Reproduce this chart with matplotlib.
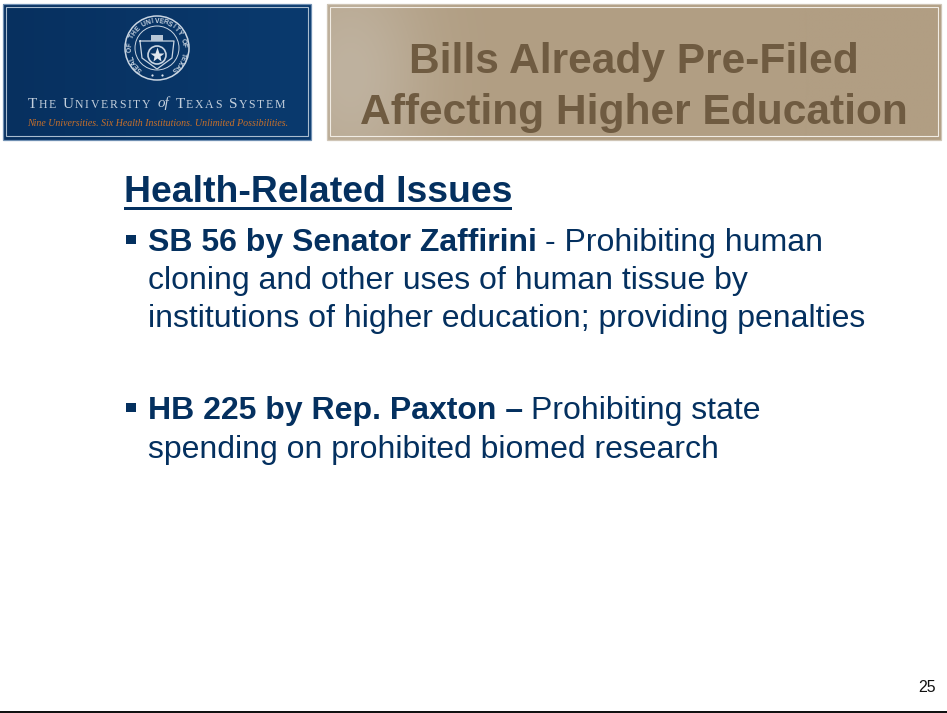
import numpy as np
import matplotlib
matplotlib.use("Agg")
import matplotlib.pyplot as plt
from matplotlib.patches import Rectangle, Circle

plt.rcParams['font.family'] = ['Liberation Sans', 'DejaVu Sans']

NAVY = '#04305f'
TAN_TEXT = '#6f5b41'
ORANGE = '#c8702a'

title_lines = ['Bills Already Pre-Filed', 'Affecting Higher Education']
heading = 'Health-Related Issues'
bullet_one = [('SB 56 by Senator Zaffirini', ' - Prohibiting human'),
              ('', 'cloning and other uses of human tissue by'),
              ('', 'institutions of higher education; providing penalties')]
bullet_two = [('HB 225 by Rep. Paxton \u2013', ' Prohibiting state'),
              ('', 'spending on prohibited biomed research')]
logo_tag = 'Nine Universities. Six Health Institutions. Unlimited Possibilities.'
seal_ring = 'SEAL OF THE UNIVERSITY OF TEXAS'
page_no = '25'

fig = plt.figure(figsize=(9.47, 7.13), dpi=100, facecolor='white')
ax = fig.add_axes([0, 0, 1, 1])
ax.set_xlim(0, 947)
ax.set_ylim(713, 0)
ax.axis('off')


def panel(x0, y0, x1, y1, left, right, border, inner, glow):
    c = np.array(matplotlib.colors.to_rgb(left))[None, None, :]
    d = np.array(matplotlib.colors.to_rgb(right))[None, None, :]
    ax.imshow(c * (1 - glow) + d * glow, extent=(x0, x1, y1, y0), aspect='auto',
              interpolation='bilinear', zorder=1)
    ax.add_patch(Rectangle((x0, y0), x1 - x0, y1 - y0, fill=False, ec=border, lw=0.9, zorder=2))
    ax.add_patch(Rectangle((x0 + 3, y0 + 3.2), x1 - x0 - 6, y1 - y0 - 7, fill=False, ec=inner, lw=0.8, zorder=2))


xx = np.linspace(0, 1, 400)
panel(3, 4, 311, 140, '#07305f', '#0a3a6e', '#6f8fb2', '#a9bccf', xx[None, :, None])
# soft highlight near the left of the title panel
gx, gy = np.meshgrid(np.linspace(327, 941, 400), np.linspace(4, 140, 80))
soft = np.exp(-(((gx - 350) / 75.0) ** 2 + ((gy - 75) / 120.0) ** 2))[:, :, None]
panel(327, 4, 941, 140, '#b19e83', '#bfb29f', '#cfc5b6', '#f1ece4', soft)
ax.set_xlim(0, 947)
ax.set_ylim(713, 0)

# seal
sx, sy, r = 157, 48, 32
ax.add_patch(Circle((sx, sy), r, fill=False, ec='#c9d5e2', lw=1.1, zorder=3))
ax.add_patch(Circle((sx, sy), r - 10, fill=False, ec='#c9d5e2', lw=0.7, zorder=3))
angles = np.linspace(-140, 140, len(seal_ring))
for ch, a in zip(seal_ring, angles):
    th = np.deg2rad(a)
    ax.text(sx + (r - 5.3) * np.sin(th), sy - (r - 5.3) * np.cos(th), ch, fontsize=4.9,
            fontweight='bold', color='#c9d5e2', rotation=-a, rotation_mode='anchor',
            ha='center', va='center', zorder=4)
ax.plot([sx - 17, sx + 17, sx + 15, sx, sx - 15, sx - 17],
        [sy - 7, sy - 7, sy + 10, sy + 21, sy + 10, sy - 7], color='#c9d5e2', lw=0.9, zorder=3)
ax.add_patch(Rectangle((sx - 6, sy - 13), 12, 6, fc='#b7c6d6', ec='none', zorder=3))
ax.add_patch(Circle((sx, sy + 7), 9, fill=False, ec='#c9d5e2', lw=1.2, zorder=3))
ax.plot([sx], [sy + 7], marker='*', ms=11, color='#dfe6ee', mec='none', zorder=4)
ax.plot([sx - 5, sx + 5], [sy + 27, sy + 27], ls='none', marker='o', ms=1.6, color='#dfe6ee', mec='none', zorder=4)

# logo text, small capitals
rend = fig.canvas.get_renderer()
x = 28
for word, style in [('T', 0), ('HE', 1), (' ', 2), ('U', 0), ('NIVERSITY', 1), (' ', 2), ('of', 3), (' ', 2),
                    ('T', 0), ('EXAS', 1), (' ', 2), ('S', 0), ('YSTEM', 1)]:
    if style == 2:
        x += 5.5
        continue
    size = {0: 11.0, 1: 8.5, 3: 10.8}[style]
    if style == 1:
        for ch in word:
            t = ax.text(x, 107.5, ch, fontsize=size, family='Liberation Serif', color='#c3cfdc', zorder=4)
            x += t.get_window_extent(rend).width + 1.7
    else:
        t = ax.text(x, 107.5, word, fontsize=size, family='Liberation Serif',
                    style='italic' if style == 3 else 'normal', color='#c3cfdc', zorder=4)
        x += t.get_window_extent(rend).width + 1.0

ax.text(157.5, 125.5, logo_tag, fontsize=7.1, family='Liberation Serif', style='italic',
        color=ORANGE, ha='center', va='baseline', zorder=4)

# title
ax.text(634, 73, title_lines[0], fontsize=30.6, fontweight='bold', color=TAN_TEXT,
        ha='center', va='baseline', zorder=4)
ax.text(634, 124, title_lines[1], fontsize=30.6, fontweight='bold', color=TAN_TEXT,
        ha='center', va='baseline', zorder=4)

# heading
ax.text(123.5, 202, heading, fontsize=26.9, fontweight='bold', color=NAVY, va='baseline', zorder=4)
ax.add_patch(Rectangle((123.5, 207), 388.5, 3, fc=NAVY, ec='none', zorder=4))


def rich_line(x, y, bold, regular):
    if bold:
        t = ax.text(x, y, bold, fontsize=23.0, fontweight='bold', color=NAVY, va='baseline', zorder=4)
        x = t.get_window_extent(rend).x1
    if regular:
        lead = regular.startswith(' ')
        ax.text(x + (8.5 if lead else 0), y, regular.strip(), fontsize=23.0, color=NAVY, va='baseline', zorder=4)


for (b, rg), y in zip(bullet_one, [251, 289, 327]):
    rich_line(147.5, y, b, rg)
for (b, rg), y in zip(bullet_two, [419, 458]):
    rich_line(147.5, y, b, rg)

ax.add_patch(Rectangle((126, 234.5), 9.5, 9.5, fc=NAVY, ec='none', zorder=4))
ax.add_patch(Rectangle((126, 402.5), 9.5, 9.5, fc=NAVY, ec='none', zorder=4))

ax.text(936, 692, page_no, fontsize=11.4, color='#111111', ha='right', va='baseline', zorder=4)
ax.add_patch(Rectangle((0, 711), 947, 2, fc='#111111', ec='none', zorder=4))

fig.savefig('out.png', dpi=100, facecolor='white')
